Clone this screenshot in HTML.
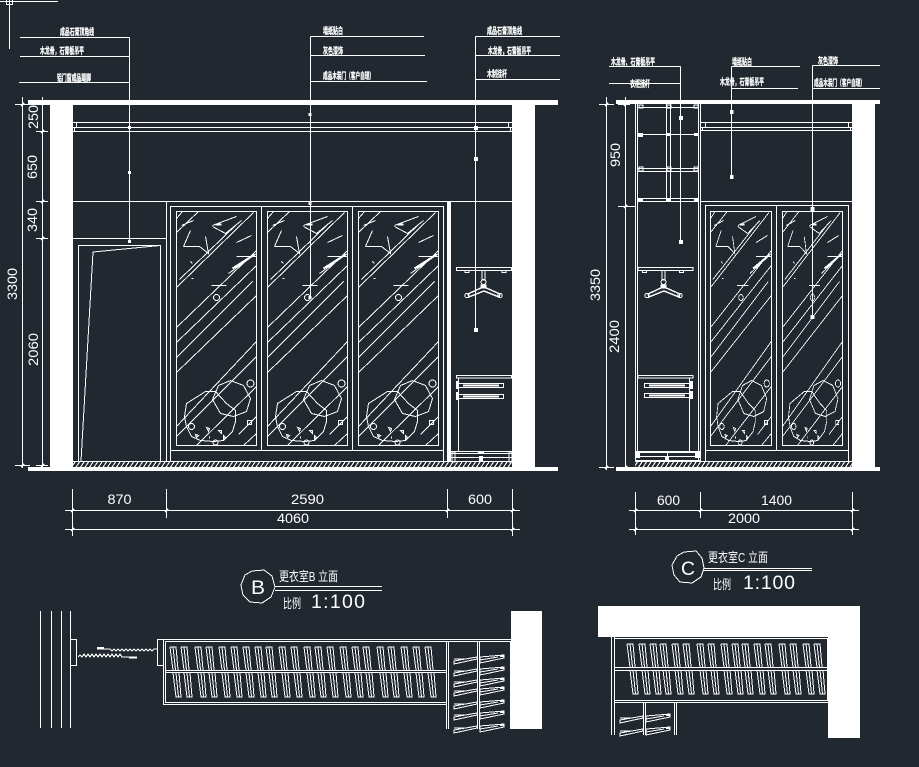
<!DOCTYPE html>
<html><head><meta charset="utf-8"><style>
html,body{margin:0;padding:0;background:#212830;}
svg{display:block;}
text{fill:#fff;stroke:none;}
.n{font-family:"Liberation Sans",sans-serif;font-size:13.5px;font-weight:400;}
.c{font-family:"Liberation Sans","Noto Sans CJK SC",sans-serif;font-size:9px;font-weight:700;stroke:#fff;stroke-width:.3px;}
.t{font-family:"Liberation Sans","Noto Sans CJK SC",sans-serif;font-size:13px;font-weight:400;}
.s{font-family:"Liberation Sans",sans-serif;font-size:19.5px;font-weight:400;}
</style></head><body>
<svg xmlns="http://www.w3.org/2000/svg" width="919" height="767" viewBox="0 0 919 767" fill="none" stroke="#fff" stroke-width="1" shape-rendering="crispEdges">
<defs>
<pattern id="h" width="4.5" height="6" patternUnits="userSpaceOnUse"><path d="M-1,6 L3,0 M3.5,6 L7.5,0" stroke="#fff" stroke-width="1"/></pattern>
<g id="glass">
<path d="M0,7L6,0M0,21L22,0M0,76L77,1M3,68L60,13M0,116L80,39M0,131L80,54M0,146L76,70M0,161L80,84M0,215L80,130M0,225L80,145M20,234L80,175M62,223L80,205M67,234L80,222"/>
<path d="M7,35L14,19M7,35H23L32,42L29,25M36,14L60,5M36,15L49,22L65,9M60,31L75,24M60,45H80M52,62L80,42M35,74H50M5,14L17,9M14,50L16,52M15,67h2"/>
<path d="M39,13h6" stroke-width="2"/><path d="M56,57L78,43" stroke-width="2"/>
<circle cx="40" cy="86" r="3"/>
<path d="M29,180H39L50,192L59,199V210L56,220L47,229L37,230L24,229L15,225L10,215L8,205L10,192Z"/>
<path d="M54,169L67,174L74,187L70,200L57,205L44,202L36,188L42,174Z"/>
<circle cx="74" cy="172" r="3.5"/><circle cx="15" cy="215" r="3"/><circle cx="39" cy="231" r="2.5"/>
<path d="M30,216l3,1l-1,3zM42,219l3,0l0,3zM19,223l3,1l-2,2zM47,224l2,2l-2,2zM33,225l0,2"/>
<rect x="71" y="209" width="4" height="4"/>
</g>
<g id="cl">
<path d="M0,0H6L8,23M0,0L3,23M3,0L5.500,23"/>
<path d="M3,26L6,50H11L9,26M6,26L8.500,50"/>
</g>
<g id="sh"><path d="M0,4L23,0V2L0,7ZM0,2H11M26,0L50,-2V1L26,6ZM26,3L44,0"/><path d="M46,-1h4" stroke-width="2"/></g>
<g id="hg">
<path d="M482,271V280H485V271"/><circle cx="483.5" cy="282" r="2.5"/><path d="M481,285H486V288H481Z" fill="#fff"/>
<path d="M483,287L468,294L469,297L484,291L499,297L500,294L484,287" stroke-width="1.4"/>
<circle cx="467" cy="295.5" r="2.2"/><circle cx="500" cy="295.5" r="2.2"/>
</g>
</defs>
<rect width="919" height="767" fill="#212830" stroke="none"/>

<!-- top-left mark -->
<path d="M9.5,0V49M0,1.5H58M6.5,0V4.5H12.5V0"/>

<!-- ELEVATION B structure -->
<g fill="#fff" stroke="none">
<rect x="28" y="100" width="530" height="5"/>
<rect x="50" y="105" width="23" height="362"/>
<rect x="512" y="105" width="23" height="362"/>
<rect x="28" y="467" width="530" height="4"/>
<rect x="447" y="201" width="4" height="261"/>
</g>
<path d="M73,122.5H512M73,127.5H512M73,131.5H512M76.5,122.5V127.5M74.5,127.5V131.5M508.5,122.5V127.5M510.5,127.5V131.5"/>
<path d="M73,201.5H512M73,238.5H166.5M166.5,201.5V462M73,461.5H512"/>
<rect x="78.5" y="245.5" width="82" height="216"/>
<path d="M81,461L93,252L160,245.5"/>
<rect x="170.5" y="206.5" width="273" height="255"/>
<path d="M170.5,450.5H443.5M261.5,206.5V450.5M352.5,206.5V450.5"/>
<rect x="176.5" y="211.5" width="80" height="234"/>
<rect x="267.5" y="211.5" width="80" height="234"/>
<rect x="358.5" y="211.5" width="80" height="234"/>
<use href="#glass" x="176.5" y="211.5"/>
<use href="#glass" x="267.5" y="211.5"/>
<use href="#glass" x="358.5" y="211.5"/>
<rect x="73" y="462" width="439" height="5" fill="url(#h)" stroke="none"/>

<!-- closet B -->
<rect x="456.5" y="267.5" width="55" height="3"/>
<path d="M465,270.5h4v2h-4zM502,270.5h4v2h-4z"/>
<use href="#hg"/>
<rect x="456.5" y="375.5" width="55" height="2.5"/>
<path d="M458.5,378V451"/>
<rect x="458.5" y="383.5" width="45" height="4"/><rect x="458.5" y="394.5" width="45" height="4"/>
<path d="M463,385.5H499M463,396.5H499" stroke-width="2"/>
<rect x="456" y="381" width="2.5" height="8" fill="#fff" stroke="none"/><rect x="456" y="392" width="2.5" height="8" fill="#fff" stroke="none"/>
<path d="M451,451.5H512M451,453.5H512M451,457.5H512M451,461.5H512"/>
<path d="M452,452h3v10h-3zM509,452h3v10h-3z"/>
<rect x="478" y="451" width="6" height="3" fill="#fff" stroke="none"/><rect x="479" y="456" width="4" height="6" fill="#fff" stroke="none"/>

<!-- leaders B -->
<path d="M129.5,37.5V242M20,37.5H129.5M20,56.5H129.5M19,82.5H129.5"/>
<path d="M310.5,36.5V297M310.5,36.5H424M310.5,55.5H425M310.5,81.5H427"/>
<path d="M475.5,36.5V330M475.5,36.5H560M475.5,55.5H560M475.5,79.5H560"/>
<g fill="#fff" stroke="none">
<rect x="128" y="126" width="3" height="3"/><rect x="128" y="171" width="3" height="3"/><rect x="128" y="240" width="3" height="3"/>
<rect x="308.5" y="113" width="3" height="3"/><rect x="308.5" y="202" width="3" height="3"/><rect x="308.5" y="296" width="3" height="3"/>
<rect x="474" y="126" width="4" height="4"/><rect x="474" y="157" width="4" height="4"/><rect x="474" y="328" width="4" height="4"/>
</g>
<text class="c" x="60" y="35" textLength="34" lengthAdjust="spacingAndGlyphs">成品石膏顶角线</text>
<text class="c" x="40" y="54" textLength="44" lengthAdjust="spacingAndGlyphs">木龙骨，石膏板吊平</text>
<text class="c" x="57" y="81" textLength="34" lengthAdjust="spacingAndGlyphs">铝门窗成品踢脚</text>
<text class="c" x="323" y="34" textLength="20" lengthAdjust="spacingAndGlyphs">墙纸贴白</text>
<text class="c" x="323" y="54" textLength="20" lengthAdjust="spacingAndGlyphs">灰色漆饰</text>
<text class="c" x="323" y="79" textLength="51" lengthAdjust="spacingAndGlyphs">成品木装门（客户自理）</text>
<text class="c" x="487" y="34" textLength="35" lengthAdjust="spacingAndGlyphs">成品石膏顶角线</text>
<text class="c" x="488" y="54" textLength="43" lengthAdjust="spacingAndGlyphs">木龙骨，石膏板吊平</text>
<text class="c" x="487" y="77" textLength="20" lengthAdjust="spacingAndGlyphs">木制挂杆</text>

<!-- dims B left -->
<path d="M22.5,97V468M42.5,97V470M15,104.5H30M36,131.5H48M36,201.5H48M36,238.5H48M15,465.5H30M36,465.5H48"/>
<path d="M21,106l3,-3M41,133l3,-3M41,203l3,-3M41,240l3,-3M21,467l3,-3M41,467l3,-3" stroke-width="1.5"/>
<text class="n" transform="translate(38,129) rotate(-90)" textLength="24" lengthAdjust="spacingAndGlyphs">250</text>
<text class="n" transform="translate(37,179) rotate(-90)" textLength="24" lengthAdjust="spacingAndGlyphs">650</text>
<text class="n" transform="translate(37,232) rotate(-90)" textLength="24" lengthAdjust="spacingAndGlyphs">340</text>
<text class="n" transform="translate(38,366) rotate(-90)" textLength="33" lengthAdjust="spacingAndGlyphs">2060</text>
<text class="n" transform="translate(17,300) rotate(-90)" textLength="32" lengthAdjust="spacingAndGlyphs">3300</text>

<!-- dims B bottom -->
<path d="M72.5,489V536M166.5,489V518M447.5,489V518M512.5,489V536M65,510.5H520M65,529.500H520"/>
<path d="M71,512l3,-3M165,512l3,-3M446,512l3,-3M511,512l3,-3M71,531l3,-3M511,531l3,-3" stroke-width="1.5"/>
<text class="n" x="107.5" y="504" textLength="24" lengthAdjust="spacingAndGlyphs">870</text>
<text class="n" x="291" y="504" textLength="33" lengthAdjust="spacingAndGlyphs">2590</text>
<text class="n" x="468" y="504" textLength="24" lengthAdjust="spacingAndGlyphs">600</text>
<text class="n" x="277" y="523" textLength="32" lengthAdjust="spacingAndGlyphs">4060</text>

<!-- title B -->
<path d="M252,571L264,570L272,576L275,587L271,597L262,603L250,602L243,595L241,585L245,575Z"/>
<path d="M275,586.5H382M275,590.5H382"/>
<text class="s" x="251" y="594" textLength="14" lengthAdjust="spacingAndGlyphs">B</text>
<text class="t" x="279" y="581" textLength="59" lengthAdjust="spacingAndGlyphs">更衣室B 立面</text>
<text class="t" x="283" y="608" textLength="18" lengthAdjust="spacingAndGlyphs">比例</text>
<text class="s" x="311" y="608" textLength="54" lengthAdjust="spacing">1:100</text>

<!-- plan B -->
<path d="M40.5,611V728M51.5,611V728M61.5,611V728M70.500,611V728"/>
<rect x="70.5" y="639.5" width="6" height="26"/>
<rect x="157.5" y="639.5" width="6" height="26"/>
<path d="M78,657l2,-2l2,2l2,-3l2,3l2,-3l2,3l2,-3l2,3l2,-3l2,3l2,-3l2,3l2,-3l2,3l2,-3l2,3l2,-3l2,3l2,-3l2,3l2,-3l2,3H137"/>
<path d="M97,649H110l2,2l2,-2l2,2l2,-2l2,2l2,-2l2,2l2,-2l2,2l2,-2l2,2l2,-2l2,2l2,-2l2,2l2,-2l2,2l2,-2l2,2l2,-2l2,2l2,-2H157"/>
<path d="M97,648h7M129,657.500h8" stroke-width="2"/>
<path d="M163.500,639.500H511M165.500,641.500H511M163.500,639.500V704.500H446.500M165.500,641.500V702.500H446.500M165.500,670.500H446.500M165.500,672.500H446.500"/>
<path d="M446.500,641V729M448.500,641V729M477.500,641V729M479.500,641V729M510.500,641V729"/>
<rect x="511" y="611" width="31" height="118" fill="#fff" stroke="none"/>
<g>
<use href="#cl" x="170" y="647"/><use href="#cl" x="181" y="647"/><use href="#cl" x="195" y="647"/><use href="#cl" x="206" y="647"/><use href="#cl" x="219" y="647"/><use href="#cl" x="231" y="647"/><use href="#cl" x="243" y="647"/><use href="#cl" x="255" y="647"/><use href="#cl" x="266" y="647"/><use href="#cl" x="279" y="647"/><use href="#cl" x="291" y="647"/><use href="#cl" x="304" y="647"/><use href="#cl" x="315" y="647"/><use href="#cl" x="327" y="647"/><use href="#cl" x="340" y="647"/><use href="#cl" x="352" y="647"/><use href="#cl" x="363" y="647"/><use href="#cl" x="377" y="647"/><use href="#cl" x="388" y="647"/><use href="#cl" x="401" y="647"/><use href="#cl" x="413" y="647"/><use href="#cl" x="425" y="647"/>
</g>
<g>
<use href="#sh" x="454" y="657"/><use href="#sh" x="454" y="669"/><use href="#sh" x="454" y="680"/><use href="#sh" x="454" y="689"/><use href="#sh" x="454" y="702"/><use href="#sh" x="454" y="713"/><use href="#sh" x="454" y="726"/>
</g>

<!-- ELEVATION C structure -->
<g fill="#fff" stroke="none">
<rect x="616" y="100" width="264" height="4"/>
<rect x="852" y="104" width="23" height="363"/>
<rect x="616" y="467" width="264" height="4"/>
</g>
<path d="M701,122.500H852M701,127.500H852M701,130.500H852M705.500,122.500V127.500M702.500,127.500V130.500M848.500,122.500V127.500M850.500,127.500V130.500"/>
<path d="M701,201.500H852"/>
<path d="M635.500,104V461M637.500,104V451M698.500,104V461M700.500,104V461M666.500,104V201M670.500,104V201"/>
<path d="M637.500,107.500H698.500M637.500,134.500H698.500M637.500,168.500H698.500M637.500,171.500H698.500M637.500,198.500H698.500M637.500,201.500H698.500"/>
<g fill="#fff" stroke="none">
<rect x="638" y="133" width="5" height="4"/><rect x="638" y="198" width="5" height="4"/>
<rect x="666" y="133" width="4" height="3"/><rect x="666" y="198" width="4" height="3"/>
<rect x="694" y="133" width="4" height="3"/><rect x="694" y="198" width="4" height="3"/>
</g>
<path d="M639,105h4v3h-4zM667,105h4v3h-4zM694,105h4v3h-4zM639,167h4v4h-4zM667,167h4v4h-4zM694,167h4v4h-4z"/>
<rect x="705.500" y="205.500" width="143" height="256"/>
<path d="M705.500,450.500H848.500M776.500,205.500V450.500"/>
<rect x="710.500" y="211.500" width="61" height="234"/>
<rect x="782.500" y="211.500" width="60" height="234"/>
<g transform="translate(710.500,211.500) scale(0.76,1)"><use href="#glass"/></g>
<g transform="translate(782.500,211.500) scale(0.75,1)"><use href="#glass"/></g>
<rect x="635" y="461.500" width="217" height="5.500" fill="url(#h)" stroke="none"/>
<path d="M635,461.500H852"/>

<!-- closet C -->
<rect x="638" y="267.500" width="55" height="3"/>
<path d="M642.500,270.500h4v2h-4zM679.500,270.500h4v2h-4z"/>
<use href="#hg" x="180"/>
<rect x="638" y="375.500" width="55" height="2.500"/>
<path d="M689.500,378V451"/>
<rect x="644.500" y="383.500" width="45" height="4"/><rect x="644.500" y="393.500" width="45" height="4"/>
<path d="M649,385.500H685M649,395.500H685" stroke-width="2"/>
<rect x="690" y="381" width="3" height="8" fill="#fff" stroke="none"/><rect x="690" y="391" width="3" height="8" fill="#fff" stroke="none"/>
<path d="M635.500,451.500H700M635.500,452.500H700M635.500,456.500H700M635.500,460.500H700M667.500,451V461"/>
<rect x="636" y="452" width="4" height="6" fill="#fff" stroke="none"/><rect x="695" y="452" width="5" height="6" fill="#fff" stroke="none"/>
<rect x="665" y="456" width="4" height="4" fill="#fff" stroke="none"/>

<!-- leaders C -->
<path d="M680.500,66.500V242M609,66.500H680.500M609,83.500H680.500"/>
<path d="M731.500,66.500V177M731.500,66.500H800M731.500,88.500H798"/>
<path d="M812.500,65.500V317M812.500,65.500H880M812.500,88.500H880"/>
<g fill="#fff" stroke="none">
<rect x="679" y="116" width="4" height="4"/><rect x="679" y="240" width="4" height="4"/>
<rect x="730" y="110" width="3.500" height="4"/><rect x="730" y="175" width="3.500" height="4"/>
<rect x="810.500" y="207" width="4" height="4"/><rect x="810.500" y="315" width="4" height="4"/>
</g>
<text class="c" x="611" y="65" textLength="44" lengthAdjust="spacingAndGlyphs">木龙骨、石膏板吊平</text>
<text class="c" x="630" y="87" textLength="20" lengthAdjust="spacingAndGlyphs">衣柜挂杆</text>
<text class="c" x="732" y="65" textLength="20" lengthAdjust="spacingAndGlyphs">墙纸贴白</text>
<text class="c" x="720" y="85" textLength="44" lengthAdjust="spacingAndGlyphs">木龙骨，石膏板吊平</text>
<text class="c" x="818" y="64" textLength="20" lengthAdjust="spacingAndGlyphs">灰色漆饰</text>
<text class="c" x="814" y="86" textLength="51" lengthAdjust="spacingAndGlyphs">成品木装门（客户自理）</text>

<!-- dims C left -->
<path d="M606.500,97V470M625.500,97V470M599,104.500H614M618,104.500H630M618,206.500H636M599,467.500H614M618,467.500H630"/>
<path d="M605,106l3,-3M624,106l3,-3M624,208l3,-3M605,469l3,-3M624,469l3,-3" stroke-width="1.5"/>
<text class="n" transform="translate(620,167) rotate(-90)" textLength="24" lengthAdjust="spacingAndGlyphs">950</text>
<text class="n" transform="translate(619,353) rotate(-90)" textLength="33" lengthAdjust="spacingAndGlyphs">2400</text>
<text class="n" transform="translate(600,301) rotate(-90)" textLength="32" lengthAdjust="spacingAndGlyphs">3350</text>

<!-- dims C bottom -->
<path d="M635.500,492V535M700.500,492V518M852.500,492V535M629,510.500H859M629,529.500H859"/>
<path d="M634,512l3,-3M699,512l3,-3M851,512l3,-3M634,531l3,-3M851,531l3,-3" stroke-width="1.5"/>
<text class="n" x="657" y="505" textLength="23" lengthAdjust="spacingAndGlyphs">600</text>
<text class="n" x="761" y="505" textLength="31" lengthAdjust="spacingAndGlyphs">1400</text>
<text class="n" x="728" y="523" textLength="32" lengthAdjust="spacingAndGlyphs">2000</text>

<!-- title C -->
<path d="M684,552L696,551L702,558L704,568L701,577L692,583L680,582L674,575L672,565L677,556Z"/>
<path d="M704,568.500H812M704,570.500H812"/>
<text class="s" x="681" y="575" textLength="14" lengthAdjust="spacingAndGlyphs">C</text>
<text class="t" x="708" y="562" textLength="60" lengthAdjust="spacingAndGlyphs">更衣室C 立面</text>
<text class="t" x="713" y="589" textLength="18" lengthAdjust="spacingAndGlyphs">比例</text>
<text class="s" x="743" y="589" textLength="52" lengthAdjust="spacing">1:100</text>

<!-- plan C -->
<path d="M598,606H860V738H828V637H598Z" fill="#fff" stroke="none"/>
<rect x="614.500" y="638.500" width="213" height="62"/>
<path d="M614.500,667.500H827M614.500,670.500H827M611.500,637V735M614.500,637V735M614.500,702.500H828M643.500,702V735M645.500,702V735M674.500,702V735M676.500,702V735"/>
<g>
<use href="#cl" x="627" y="644"/><use href="#cl" x="639" y="644"/><use href="#cl" x="650" y="644"/><use href="#cl" x="660" y="644"/><use href="#cl" x="672" y="644"/><use href="#cl" x="683" y="644"/><use href="#cl" x="697" y="644"/><use href="#cl" x="708" y="644"/><use href="#cl" x="721" y="644"/><use href="#cl" x="732" y="644"/><use href="#cl" x="742" y="644"/><use href="#cl" x="754" y="644"/><use href="#cl" x="765" y="644"/><use href="#cl" x="779" y="644"/><use href="#cl" x="790" y="644"/><use href="#cl" x="803" y="644"/><use href="#cl" x="814" y="644"/>
</g>
<use href="#sh" x="620" y="716"/><use href="#sh" x="620" y="729"/>
</svg>
</body></html>
